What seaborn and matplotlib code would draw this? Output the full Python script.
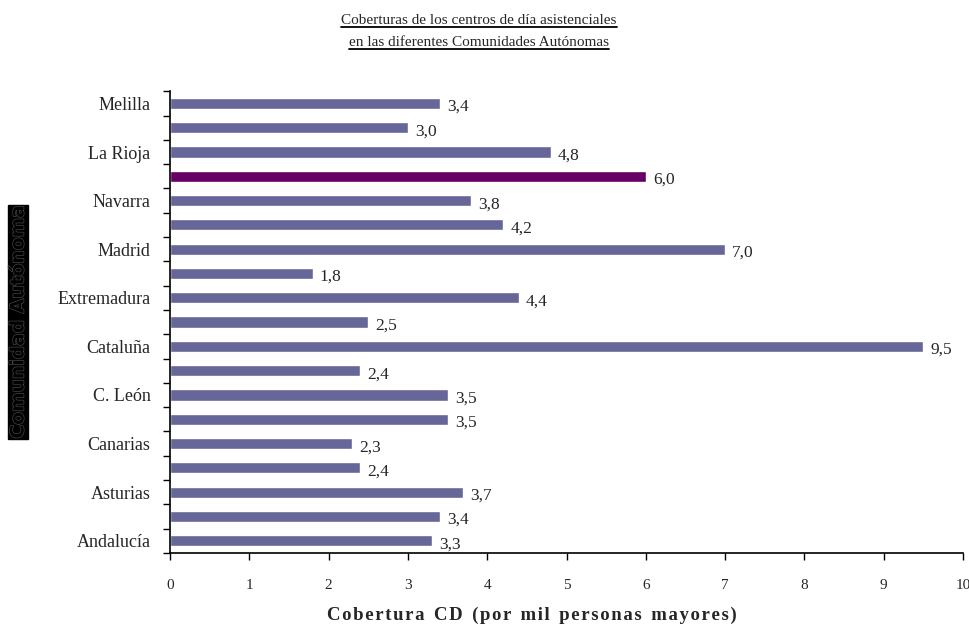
import numpy as np
import pandas as pd
import matplotlib
matplotlib.use('Agg')
import matplotlib.pyplot as plt
import matplotlib.patheffects as pe
from matplotlib.lines import Line2D
import seaborn as sns

# Data, bottom to top as drawn
regions = ['Andalucía', 'Aragón', 'Asturias', 'Baleares', 'Canarias', 'Cantabria',
           'C. León', 'C. La Mancha', 'Cataluña', 'C. Valenciana', 'Extremadura',
           'Galicia', 'Madrid', 'Murcia', 'Navarra', 'País Vasco', 'La Rioja',
           'Ceuta', 'Melilla']
coverage = [3.3, 3.4, 3.7, 2.4, 2.3, 3.5, 3.5, 2.4, 9.5, 2.5, 4.4, 1.8, 7.0, 4.2,
            3.8, 6.0, 4.8, 3.0, 3.4]
# only every other region is labelled on the axis
shown = [r if i % 2 == 0 else '' for i, r in enumerate(regions)]
highlight = 'País Vasco'

df = pd.DataFrame({'region': regions, 'coverage': coverage})
order = regions[::-1]
palette = {r: ('#660066' if r == highlight else '#666699') for r in regions}

sns.set_style('white')
plt.rcParams['font.family'] = ['Liberation Serif', 'DejaVu Serif']

fig = plt.figure(figsize=(9.7, 6.34), dpi=100)
ax = fig.add_axes([0.1753, 0.128, 0.8175, 0.728])

sns.barplot(data=df, x='coverage', y='region', hue='region', order=order,
            hue_order=order, palette=palette, legend=False, width=0.46,
            saturation=1, ax=ax)

# value labels
for i, r in enumerate(order):
    v = coverage[regions.index(r)]
    ax.text(v + 0.09, i + 0.15, f'{v:.1f}'.replace('.', ','), va='center', ha='left',
            fontsize=12.5)

ax.set_xlim(0, 10)
ax.set_ylim(len(order) - 0.5, -0.5)
ax.set_xticks(range(11))
ax.set_xticklabels([str(t) for t in range(11)], fontsize=11)
ax.tick_params(axis='x', direction='out', length=5, width=1, color='black', pad=14,
               bottom=True)
ax.set_yticks(range(len(order)))
ax.set_yticklabels(shown[::-1], fontsize=13)
ax.tick_params(axis='y', which='major', length=0, pad=14)
ax.set_yticks(np.arange(-0.5, len(order), 1), minor=True)
ax.tick_params(axis='y', which='minor', direction='out', length=5, width=1,
               color='black', left=True)

for s in ['top', 'right']:
    ax.spines[s].set_visible(False)
for s in ['left', 'bottom']:
    ax.spines[s].set_color('black')
    ax.spines[s].set_linewidth(1.2)

ax.set_ylabel('')
ax.set_xlabel('')

# x axis title, letter-spaced
hs = '\u200a'
xlab = 'Cobertura CD (por mil personas mayores)'
spaced = '  '.join(hs.join(w) for w in xlab.split(' '))
fig.text(0.548, 0.03, spaced, ha='center', va='center', fontsize=13.5,
         fontweight='bold')

# y axis title in black box
fig.text(0.0186, 0.492, 'Comunidad Autónoma', rotation=90, ha='center', va='center',
         fontsize=13.5, fontweight='bold', family=['DejaVu Sans'], color='black',
         path_effects=[pe.withStroke(linewidth=1, foreground='#444444')],
         bbox=dict(facecolor='black', edgecolor='black', pad=0.5))

# underlined title
titles = ['Coberturas de los centros de día asistenciales',
          'en las diferentes Comunidades Autónomas']
ys = [0.962, 0.927]
fig.canvas.draw()
renderer = fig.canvas.get_renderer()
for t, y in zip(titles, ys):
    txt = fig.text(0.494, y, t, ha='center', va='baseline', fontsize=11)
    bb = txt.get_window_extent(renderer).transformed(fig.transFigure.inverted())
    fig.add_artist(Line2D([bb.x0, bb.x1], [y - 0.004, y - 0.004],
                          transform=fig.transFigure, color='black', lw=1.3))

fig.savefig('out.png', dpi=100)
